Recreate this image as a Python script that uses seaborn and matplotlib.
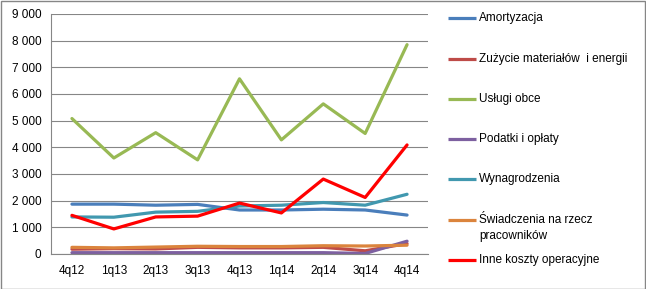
import matplotlib
matplotlib.use("Agg")
import matplotlib.pyplot as plt
import seaborn as sns
import pandas as pd
from matplotlib.lines import Line2D
from matplotlib.ticker import FuncFormatter, FixedLocator

quarters = ["4q12", "1q13", "2q13", "3q13", "4q13", "1q14", "2q14", "3q14", "4q14"]
amortyzacja = [1870, 1870, 1830, 1860, 1650, 1650, 1680, 1650, 1460]
zuzycie = [180, 200, 190, 250, 230, 230, 250, 120, 390]
uslugi = [5080, 3600, 4550, 3530, 6570, 4280, 5630, 4520, 7850]
podatki = [50, 50, 50, 50, 50, 50, 50, 20, 480]
wynagrodzenia = [1390, 1380, 1570, 1600, 1800, 1830, 1930, 1830, 2240]
swiadczenia = [250, 230, 260, 290, 280, 280, 310, 300, 330]
inne = [1450, 940, 1390, 1420, 1910, 1540, 2810, 2120, 4090]

series_names = ["Amortyzacja", "Zużycie materiałów  i energii", "Usługi obce",
                "Podatki i opłaty", "Wynagrodzenia", "Świadczenia na rzecz\npracowników",
                "Inne koszty operacyjne"]
series_values = [amortyzacja, zuzycie, uslugi, podatki, wynagrodzenia, swiadczenia, inne]
colors = ["#4A7EBB", "#BE4B48", "#98B954", "#7D60A0", "#4198AF", "#DB843D", "#FF0000"]

rows = []
for name, vals in zip(series_names, series_values):
    for i, (q, v) in enumerate(zip(quarters, vals)):
        rows.append({"q": i, "label": q, "series": name, "value": v})
df = pd.DataFrame(rows)

sns.set_style("white")
plt.rcParams["font.family"] = ["Liberation Sans", "DejaVu Sans"]

W, H = 646, 289
fig = plt.figure(figsize=(W / 100, H / 100), dpi=100)
ax = fig.add_axes([51 / W, 1 - 254 / H, (428 - 51) / W, (254 - 14) / H])

sns.lineplot(data=df, x="q", y="value", hue="series", hue_order=series_names,
             palette=colors, linewidth=2.3, ax=ax, sort=False, legend=False)

ax.set_xlim(-0.5, 8.5)
ax.set_ylim(0, 9000)
ax.set_yticks(range(0, 9001, 1000))
ax.yaxis.set_major_formatter(FuncFormatter(lambda v, p: f"{int(v):,}".replace(",", " ")))
ax.set_xticks(range(len(quarters)))
ax.set_xticklabels(quarters)
ax.xaxis.set_minor_locator(FixedLocator([i - 0.5 for i in range(len(quarters) + 1)]))
ax.tick_params(axis="x", which="major", length=0, pad=8, labelsize=8.5, labelcolor="black")
ax.tick_params(axis="x", which="minor", length=4, color="#868686", width=0.8, direction="out")
ax.tick_params(axis="y", which="major", length=4, color="#868686", width=0.8,
               direction="out", labelsize=8.5, pad=3, labelcolor="black")
ax.grid(axis="y", color="#868686", linewidth=0.8)
ax.set_axisbelow(True)
for s in ["top", "right"]:
    ax.spines[s].set_visible(False)
for s in ["left", "bottom"]:
    ax.spines[s].set_color("#868686")
    ax.spines[s].set_linewidth(0.8)
ax.set_xlabel("")
ax.set_ylabel("")

# legend drawn at reference positions
leg_y = [18, 59, 99, 139, 179, 220, 260]
for name, col, y in zip(series_names, colors, leg_y):
    fig.add_artist(Line2D([448 / W, 476 / W], [1 - y / H, 1 - y / H],
                          transform=fig.transFigure, color=col, linewidth=2.3,
                          solid_capstyle="butt"))
    lines = name.split("\n")
    for k, t in enumerate(lines):
        fig.text(479 / W, 1 - (y + k * 16) / H, t, ha="left", va="center",
                 fontsize=8.5, color="black")

border = plt.Rectangle((0.5 / W, 0.5 / H), 1 - 1.5 / W, 1 - 1.5 / H, transform=fig.transFigure,
                       fill=False, edgecolor="#868686", linewidth=1)
fig.patches.append(border)

fig.savefig("out.png", dpi=100)
